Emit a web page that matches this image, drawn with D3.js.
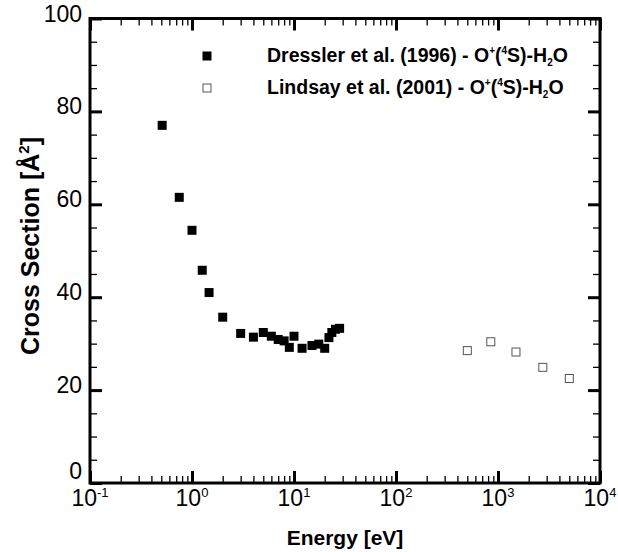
<!DOCTYPE html>
<html lang="en">
<head>
    <meta charset="UTF-8">
    <script src="https://cdn.jsdelivr.net/npm/d3@7"></script>
    <title>Cross Section vs Energy</title>
    <style>
        body { margin: 0; background: white; }
        svg text { font-family: "Liberation Sans", Arial, Helvetica, sans-serif; fill: black; }
        .tick line { stroke: black; }
    </style>
</head>
<body>
    <div class="chart"></div>

    <script>
        // Data
        const dresslerEnergy = [0.51, 0.75, 1.0, 1.26, 1.47, 2.0, 3.0, 4.0, 5.0, 6.0, 7.0, 8.0, 9.0, 10.0, 12.0, 15.0, 17.5, 20.0, 22.0, 23.5, 25.5, 28.0];
        const dresslerSigma = [77.0, 61.5, 54.4, 45.8, 41.0, 35.7, 32.2, 31.4, 32.4, 31.6, 30.9, 30.6, 29.2, 31.6, 29.0, 29.6, 29.9, 29.0, 31.3, 32.4, 33.1, 33.3];

        const lindsayEnergy = [500, 850, 1500, 2750, 5000];
        const lindsaySigma = [28.5, 30.4, 28.2, 24.9, 22.5];

        const xMajor = [0.1, 1, 10, 100, 1000, 10000];
        const xExponents = ["-1", "0", "1", "2", "3", "4"];
        const yMajor = [0, 20, 40, 60, 80, 100];
        const yMinor = d3.range(0, 101, 5).filter(v => v % 20 !== 0);
        const xMinor = [];
        xMajor.slice(0, -1).forEach(d => { for (let k = 2; k <= 9; k++) xMinor.push(d * k); });

        // Set Dimensions
        const width = 618, height = 552;
        const plot = { left: 90, right: 600, top: 18.5, bottom: 483 };

        const svg = d3.select(".chart").append("svg")
            .attr("width", width)
            .attr("height", height);

        const x = d3.scaleLog().domain([0.1, 10000]).range([plot.left, plot.right]);
        const y = d3.scaleLinear().domain([0, 100]).range([plot.bottom, plot.top]);

        // ticks on all four sides, pointing inward
        const drawTicks = (axis, transform, values, size, sw) => {
            const g = svg.append("g")
                .attr("transform", transform)
                .call(axis.tickValues(values).tickSize(-size).tickFormat(""));
            g.select(".domain").remove();
            g.selectAll(".tick line").attr("stroke-width", sw);
        };

        drawTicks(d3.axisBottom(x), `translate(0,${plot.bottom})`, xMajor, 12, 3);
        drawTicks(d3.axisBottom(x), `translate(0,${plot.bottom})`, xMinor, 7, 1.3);
        drawTicks(d3.axisTop(x), `translate(0,${plot.top})`, xMajor, 12, 3);
        drawTicks(d3.axisTop(x), `translate(0,${plot.top})`, xMinor, 7, 1.3);
        drawTicks(d3.axisLeft(y), `translate(${plot.left},0)`, yMajor, 12, 3);
        drawTicks(d3.axisLeft(y), `translate(${plot.left},0)`, yMinor, 7, 1.3);
        drawTicks(d3.axisRight(y), `translate(${plot.right},0)`, yMajor, 12, 3);
        drawTicks(d3.axisRight(y), `translate(${plot.right},0)`, yMinor, 7, 1.3);

        // frame
        svg.append("rect")
            .attr("x", plot.left)
            .attr("y", plot.top)
            .attr("width", plot.right - plot.left)
            .attr("height", plot.bottom - plot.top)
            .attr("fill", "none")
            .attr("stroke", "black")
            .attr("stroke-width", 3);

        // x tick labels 10^n
        const xLabels = svg.append("g").selectAll("text")
            .data(xMajor)
            .enter()
            .append("text")
            .attr("x", d => x(d))
            .attr("y", 506)
            .attr("text-anchor", "middle")
            .style("font-size", "23px");
        xLabels.append("tspan").text("10");
        xLabels.append("tspan")
            .attr("dy", -9)
            .style("font-size", "13px")
            .text((d, i) => xExponents[i]);

        // y tick labels
        svg.append("g").selectAll("text")
            .data(yMajor)
            .enter()
            .append("text")
            .attr("x", 82)
            .attr("y", d => y(d) + (d === 0 ? -4 : 3))
            .attr("text-anchor", "end")
            .style("font-size", "23px")
            .text(d => d);

        // axis titles
        svg.append("text")
            .attr("x", (plot.left + plot.right) / 2)
            .attr("y", 545)
            .attr("text-anchor", "middle")
            .style("font-size", "21px")
            .style("font-weight", "bold")
            .text("Energy [eV]");

        const yTitle = svg.append("text")
            .attr("transform", "translate(39,246) rotate(-90)")
            .attr("text-anchor", "middle")
            .style("font-size", "25px")
            .style("font-weight", "bold");
        yTitle.append("tspan").text("Cross Section [Å");
        yTitle.append("tspan").attr("dy", -10).style("font-size", "15px").text("2");
        yTitle.append("tspan").attr("dy", 10).text("]");

        // data points
        const ms = 9;
        svg.append("g").selectAll("rect")
            .data(dresslerEnergy)
            .enter()
            .append("rect")
            .attr("x", (d, i) => x(d) - ms / 2)
            .attr("y", (d, i) => y(dresslerSigma[i]) - ms / 2)
            .attr("width", ms)
            .attr("height", ms)
            .attr("fill", "black");

        svg.append("g").selectAll("rect")
            .data(lindsayEnergy)
            .enter()
            .append("rect")
            .attr("x", (d, i) => x(d) - ms / 2 + 0.5)
            .attr("y", (d, i) => y(lindsaySigma[i]) - ms / 2 + 0.5)
            .attr("width", ms - 1)
            .attr("height", ms - 1)
            .attr("fill", "white")
            .attr("stroke", "#555")
            .attr("stroke-width", 1);

        // legend
        const legendRows = [
            { name: "Dressler et al. (1996) - O", filled: true, y: 56 },
            { name: "Lindsay et al. (2001) - O", filled: false, y: 88 }
        ];
        const legend = svg.append("g");
        legendRows.forEach(row => {
            legend.append("rect")
                .attr("x", 207 - ms / 2 + (row.filled ? 0 : 0.5))
                .attr("y", row.y - ms / 2 + (row.filled ? 0 : 0.5))
                .attr("width", row.filled ? ms : ms - 1)
                .attr("height", row.filled ? ms : ms - 1)
                .attr("fill", row.filled ? "black" : "white")
                .attr("stroke", row.filled ? "none" : "#555");

            const t = legend.append("text")
                .attr("x", 267)
                .attr("y", row.y + 6)
                .style("font-size", "19.5px")
                .style("font-weight", "bold");
            t.append("tspan").text(row.name);
            t.append("tspan").attr("dy", -8).style("font-size", "10px").text("+");
            t.append("tspan").attr("dy", 8).text("(");
            t.append("tspan").attr("dy", -8).style("font-size", "10px").text("4");
            t.append("tspan").attr("dy", 8).text("S)-H");
            t.append("tspan").attr("dy", 4).style("font-size", "10px").text("2");
            t.append("tspan").attr("dy", -4).text("O");
        });
    </script>
</body>
</html>
